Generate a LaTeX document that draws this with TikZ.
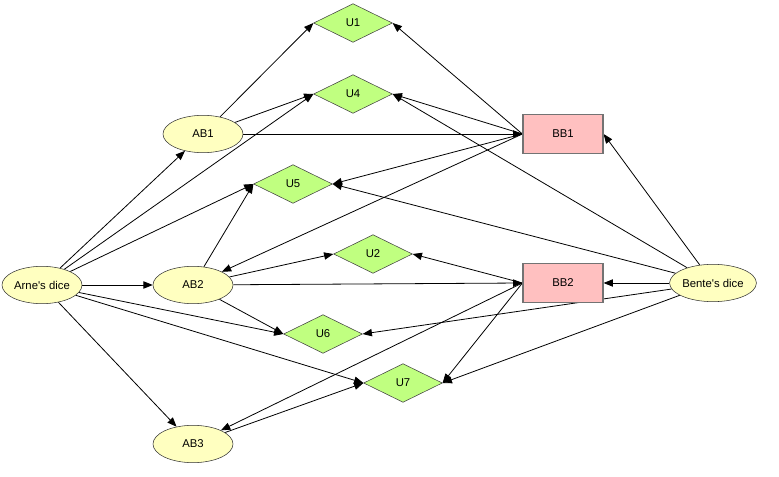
\documentclass[tikz,border=0pt]{standalone}
\usepackage{fontspec}
\setmainfont{Liberation Sans}
\usepackage{tikz}
\usetikzlibrary{arrows.meta,shapes.geometric,backgrounds}

\definecolor{dicefill}{HTML}{FFFFC0}
\definecolor{utilfill}{HTML}{C0FF80}
\definecolor{boxfill}{HTML}{FFC0C0}

\begin{document}
\begin{tikzpicture}[
  x=0.75pt, y=-0.75pt,
  every node/.style={font=\fontsize{8.5}{10}\selectfont},
  chance/.style={draw=black!80, ellipse, fill=dicefill, minimum width=60pt, minimum height=28pt, inner sep=0pt},
  utility/.style={draw=black!75, diamond, fill=utilfill, minimum width=59pt, minimum height=29pt, inner sep=0pt},
  decision/.style={draw=black!55, line width=0.9pt, rectangle, fill=boxfill, minimum width=60pt, minimum height=29pt, inner sep=0pt},
  arrow/.style={-{Triangle[length=7pt,width=5.5pt]}, line width=0.6pt}
]
\useasboundingbox (0,0) rectangle (779,477);

\node[chance] (arne) at (42,285) {Arne\textquotesingle s dice};
\node[chance] (ab1) at (203,134) {AB1};
\node[chance] (ab2) at (193,285) {AB2};
\node[chance] (ab3) at (193,444) {AB3};
\node[chance] (bente) at (713,283) {Bente\textquotesingle s dice};

\node[utility] (u1) at (353,23) {U1};
\node[utility] (u4) at (353,94) {U4};
\node[utility] (u5) at (293,184) {U5};
\node[utility] (u2) at (373,254) {U2};
\node[utility] (u6) at (323,334) {U6};
\node[utility] (u7) at (403,383) {U7};

\node[decision] (bb1) at (563,134) {BB1};
\node[decision] (bb2) at (563,283) {BB2};

\begin{scope}[on background layer]
\draw[arrow] (arne) -- (ab1);
\draw[arrow] (arne) -- (u4.west);
\draw[arrow] (arne) -- (u5.west);
\draw[arrow] (arne) -- (ab2);
\draw[arrow] (arne) -- (u6.west);
\draw[arrow] (arne) -- (u7.west);
\draw[arrow] (arne) -- (ab3);

\draw[arrow] (ab1) -- (u1.west);
\draw[arrow] (ab1) -- (u4.west);
\draw[arrow] (ab1) -- (bb1.west);

\draw[arrow] (ab2) -- (u5.west);
\draw[arrow] (ab2) -- (u2.west);
\draw[arrow] (ab2) -- (bb2.west);
\draw[arrow] (ab2) -- (u6.west);

\draw[arrow] (ab3) -- (u7.west);

\draw[arrow] (bb1.west) -- (u1.east);
\draw[arrow] (bb1.west) -- (u4.east);
\draw[arrow] (bb1.west) -- (u5.east);
\draw[arrow] (bb1.west) -- (ab2);

\draw[arrow] (bb2.west) -- (u2.east);
\draw[arrow] (bb2.west) -- (u7.east);
\draw[arrow] (bb2.west) -- (ab3);

\draw[arrow] (bente) -- (bb1.east);
\draw[arrow] (bente) -- (bb2.east);
\draw[arrow] (bente) -- (u4.east);
\draw[arrow] (bente) -- (u5.east);
\draw[arrow] (bente) -- (u6.east);
\draw[arrow] (bente) -- (u7.east);
\end{scope}
\end{tikzpicture}
\end{document}
